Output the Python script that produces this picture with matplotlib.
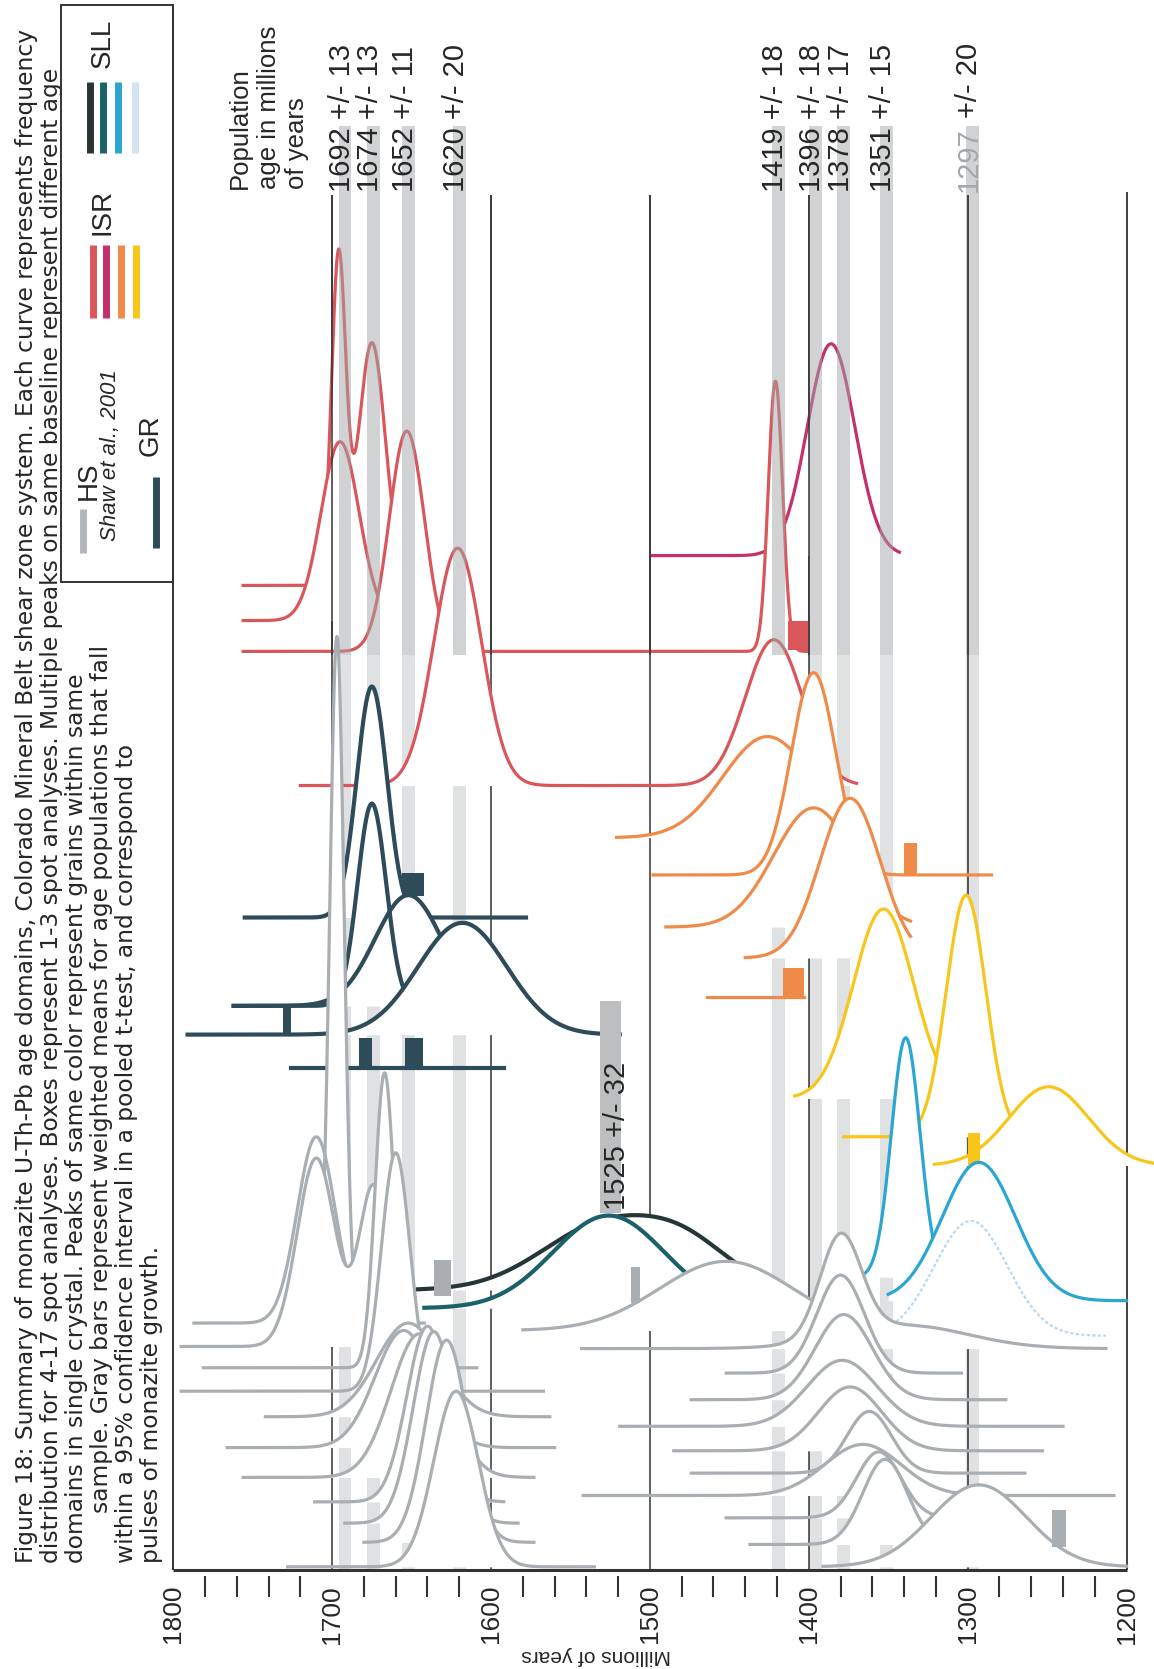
import numpy as np
import matplotlib.pyplot as plt

plt.rcParams['font.family'] = ['Liberation Sans', 'DejaVu Sans']

# population ages (gray bars) with +/- errors, Ma
pop_age = [1692, 1674, 1652, 1620, 1419, 1396, 1378, 1351, 1297]
pop_err = [13, 13, 11, 20, 18, 18, 17, 15, 20]
old_age, old_err = 1525, 32
age_ticks = [1800, 1700, 1600, 1500, 1400, 1300, 1200]

# curves: baseline offset, (age from, age to), peaks (age, sigma, height), boxes (age, age, height[, lift])
red_base = [550, 583, 612, 738]
red_span = [(1756, 1648), (1756, 1645), (1756, 1401), (1720, 1370)]
red_peaks = [[(1696, 4.5, 305), (1675, 8.5, 228)], [(1695, 12, 168)],
             [(1653, 11, 207), (1421, 4.5, 254)], [(1621, 15, 223), (1422, 18, 137)]]
red_boxes = [[], [], [(1413, 1400, 27)], []]

mag_base = [522]
mag_span = [(1499, 1343)]
mag_peaks = [[(1386, 15, 199)]]

org_base = [787, 822, 871, 900, 937]
org_span = [(1521, 1380), (1498, 1285), (1490, 1336), (1440, 1336), (1464, 1403)]
org_peaks = [[(1426, 28, 95)], [(1397, 14, 190)], [(1397, 25, 112)], [(1374, 19, 150)], []]
org_boxes = [[], [(1340, 1332, 30)], [], [], [(1416, 1403, 28)]]

yel_base = [1032, 1068, 1095]
yel_span = [(1409, 1300), (1378, 1265), (1321, 1183)]
yel_peaks = [[(1353, 19, 178)], [(1301, 12.5, 227)], [(1249, 25, 74)]]
yel_boxes = [[], [], [(1300, 1292, 30, -12)]]

cyan_base = [1200, 1222]
cyan_span = [(1372, 1300), (1350, 1200)]
cyan_peaks = [[(1339, 9, 225)], [(1293, 23, 130)]]

pale_base = [1255]
pale_span = [(1345, 1213)]
pale_peaks = [[(1298, 23, 108)]]

gr_base = [862, 945, 945, 972, 1003]
gr_span = [(1755, 1578), (1762, 1640), (1762, 1600), (1791, 1519), (1726, 1592)]
gr_peaks = [[(1675, 9.5, 217)], [(1675, 9, 190)], [(1652, 21, 104)], [(1618, 28, 105)], []]
gr_boxes = [[], [], [(1656, 1642, 22)], [(1731, 1726, 28)], [(1683, 1675, 28), (1654, 1643, 28)]]

sll_dark_base, sll_dark_span = [1212], [(1646, 1440)]
sll_dark_peaks = [[(1527, 40, 62), (1475, 28, 30)]]
sll_teal_base, sll_teal_span = [1229], [(1642, 1440)]
sll_teal_peaks = [[(1526, 35, 87)]]

hs_base = [1243, 1243, 1265, 1285, 1307, 1331, 1360, 1388, 1411, 1431, 1449, 1472]
hs_span = [(1712, 1682), (1787, 1642), (1795, 1640), (1781, 1609), (1795, 1567), (1742, 1563),
           (1766, 1560), (1756, 1573), (1711, 1592), (1692, 1583), (1680, 1573), (1728, 1535)]
hs_peaks = [[(1697, 4.5, 645)], [(1710, 12, 175)], [(1710, 12, 177), (1674, 9, 150)], [(1667, 6, 277)],
            [(1660, 9, 224)], [(1652, 20, 88)], [(1655, 18, 110)], [(1645, 18, 135)],
            [(1640, 13, 165)], [(1636, 13, 180)], [(1628, 13, 190)], [(1622, 14, 165)]]
hs_boxes = [[], [(1636, 1625, 34, 25)], [], [], [], [], [], [], [], [], [], []]

lo_base = [1250, 1267, 1290, 1315, 1340, 1363, 1384, 1405, 1426, 1451, 1472]
lo_span = [(1580, 1385), (1543, 1213), (1452, 1304), (1474, 1276), (1519, 1240), (1485, 1253),
           (1474, 1264), (1542, 1208), (1452, 1300), (1437, 1300), (1391, 1200)]
lo_peaks = [[(1452, 42, 65)], [(1380, 13, 95), (1340, 40, 22)], [(1380, 15, 92)], [(1378, 18, 80)],
            [(1379, 22, 62)], [(1374, 20, 60)], [(1362, 14, 58)], [(1366, 24, 48)],
            [(1356, 14, 62)], [(1352, 14, 80)], [(1293, 30, 77)]]
lo_boxes = [[(1512, 1506, 34)], [], [], [], [], [], [], [], [], [], [(1247, 1238, 35)]]

caption = ["Figure 18: Summary of monazite U-Th-Pb age domains, Colorado Mineral Belt shear zone system. Each curve represents frequency",
           "distribution for 4-17 spot analyses. Boxes represent 1-3 spot analyses. Multiple peaks on same baseline represent different age",
           "domains in single crystal. Peaks of same color represent grains within same",
           "sample. Gray bars represent weighted means for age populations that fall",
           "within a 95% confidence interval in a pooled t-test, and correspond to",
           "pulses of monazite growth."]

INK = '#262626'
W, H = 1084, 1568


def P(x, y):
    return x / W, 1 - y / H


def ridge(ax, bases, spans, peaks, color, lw, boxes=None, ls='-'):
    boxes = boxes or [[] for _ in bases]
    for base, span, pk, bx in zip(bases, spans, peaks, boxes):
        a = np.linspace(span[0], span[1], 900)
        y = np.full_like(a, float(base))
        for m, s, h in pk:
            y -= h * np.exp(-0.5 * ((a - m) / s) ** 2)
        z = base / 10
        ax.fill_between(a, y, base, color='white', lw=0, zorder=z)
        ax.plot(a, y, color=color, lw=lw, ls=ls, zorder=z + 0.005)
        for b in bx:
            mid = (b[0] + b[1]) / 2
            yb = base - sum(h * np.exp(-0.5 * ((mid - m) / s) ** 2) for m, s, h in pk)
            if len(b) > 3:
                yb -= b[3]
            ax.bar(mid, -b[2], bottom=yb, width=abs(b[0] - b[1]), color=color, lw=0, zorder=z + 0.008)


fig = plt.figure(figsize=(11.54, 16.69), dpi=100)
ax = fig.add_axes([0, 0, 1, 1])
ax.set_xlim(1909.05, 1182.75)
ax.set_ylim(H, 0)
ax.axis('off')

# gray population bars: on top in the upper part, behind the curves below
ax.bar(pop_age, 615 - 118, bottom=118, width=8, color='#a3a6a9', alpha=0.5, lw=0, zorder=900)
ax.bar(pop_age, 1475 - 615, bottom=615, width=8, color='#dfe1e3', lw=0, zorder=1)
ax.bar(old_age, 200, bottom=940, width=13, color='#bcbec0', lw=0, zorder=900)

inner = age_ticks[1:-1]
ax.vlines(inner, 183, 1475, color='#333333', lw=1.1, zorder=2)
ax.vlines(inner, 183, 615, color='#333333', lw=1.1, zorder=901)
ax.vlines(1800, 5, 1475, color='#333333', lw=1.4, zorder=950)
ax.vlines(1200, 180, 1475, color='#333333', lw=1.3, zorder=2)
ax.hlines(1475, 1800, 1200, color='#333333', lw=2.2, zorder=950)
minor = [a for a in range(1780, 1200, -20) if a % 100]
ax.vlines(minor, 1481, 1500, color='#333333', lw=1.5)
for a in age_ticks:
    ax.text(a, 1489, str(a), rotation=90, ha='center', va='top', fontsize=19, color=INK)
ax.text(*P(560, 1555), 'Millions of years', transform=ax.transAxes, rotation=180,
        ha='center', va='center', fontsize=15, color=INK)

# curves
ridge(ax, red_base, red_span, red_peaks, '#d9575a', 2.3, red_boxes)
ridge(ax, mag_base, mag_span, mag_peaks, '#c6306a', 2.3)
ridge(ax, org_base, org_span, org_peaks, '#f08a48', 2.3, org_boxes)
ridge(ax, yel_base, yel_span, yel_peaks, '#f8c51a', 2.3, yel_boxes)
ridge(ax, cyan_base, cyan_span, cyan_peaks, '#2aa6d1', 2.3)
ridge(ax, pale_base, pale_span, pale_peaks, '#bdd7ec', 1.6, ls=(0, (1.5, 1)))
ridge(ax, gr_base, gr_span, gr_peaks, '#2e4b59', 3.0, gr_boxes)
ridge(ax, sll_dark_base, sll_dark_span, sll_dark_peaks, '#263636', 3.0)
ridge(ax, sll_teal_base, sll_teal_span, sll_teal_peaks, '#1b616b', 3.0)
ridge(ax, hs_base, hs_span, hs_peaks, '#a9aeb3', 2.3, hs_boxes)
ridge(ax, lo_base, lo_span, lo_peaks, '#a9aeb3', 2.3, lo_boxes)

# population labels
lab = dict(rotation=90, rotation_mode='anchor', ha='left', va='baseline', fontsize=21, zorder=1000)
for a, e in zip(pop_age[:-1], pop_err[:-1]):
    ax.text(a - 3, 180, f'{a} +/- {e}', color=INK, **lab)
ax.text(pop_age[-1] - 3, 180, f'{pop_age[-1]}', color='#a4a7aa', **lab)
ax.text(pop_age[-1] - 3, 111, f'+/- {pop_err[-1]}', color=INK, **lab)
ax.text(old_age - 9, 1137, f'{old_age} +/- {old_err}', color=INK, **lab)

for i, t in enumerate(['Population', 'age in millions', 'of years']):
    ax.text(*P(232 + 27 * i, 178), t, transform=ax.transAxes, rotation=90, rotation_mode='anchor',
            ha='left', va='baseline', fontsize=18.5, color=INK)

# caption
cap_x = [31, 54.5, 78, 101.5, 125, 148.5]
cap_y = [1468, 1468, 1468, 1421, 1468, 1468]
for t, x, y in zip(caption, cap_x, cap_y):
    ax.text(*P(x, y), t, transform=ax.transAxes, rotation=90, rotation_mode='anchor',
            ha='left', va='baseline', fontsize=16.8, family='DejaVu Sans', color=INK)

# legend
bx0, by0 = P(57, 547)
bx1, by1 = P(162.75, 5)
ax.add_patch(plt.Rectangle((bx0, by0), bx1 - bx0, by1 - by0, transform=ax.transAxes,
                           fill=False, lw=1.4, ec='#333333', zorder=950))


def swatch(x, y0, y1, c, ls='-'):
    ax.plot([x / W] * 2, [1 - y0 / H, 1 - y1 / H], transform=ax.transAxes, color=c, lw=5, ls=ls,
            solid_capstyle='butt', zorder=960)


for x, c in zip([85, 97, 111, 127], ['#2b3434', '#1b616b', '#2aa6d1', '#d2e3f1']):
    swatch(x, 77, 144, c)
for x, c in zip([87, 100, 114, 128], ['#d9575a', '#c6306a', '#f08a48', '#f8c51a']):
    swatch(x, 230, 299, c)
swatch(78, 478, 520, '#b3b7bb')
swatch(147, 448, 515, '#2e4b59')

for t, x, y, kw in [('SLL', 103, 64, {}), ('ISR', 103, 221, {}), ('HS', 90, 470, {}),
                    ('GR', 148, 428, {}), ('Shaw et al., 2001', 109, 508, {'style': 'italic', 'fontsize': 16})]:
    ax.text(*P(x, y), t, transform=ax.transAxes, rotation=90, rotation_mode='anchor',
            ha='left', va='baseline', color=INK, **({'fontsize': 20} | kw), zorder=960)

fig.savefig('out.png', dpi=100)
